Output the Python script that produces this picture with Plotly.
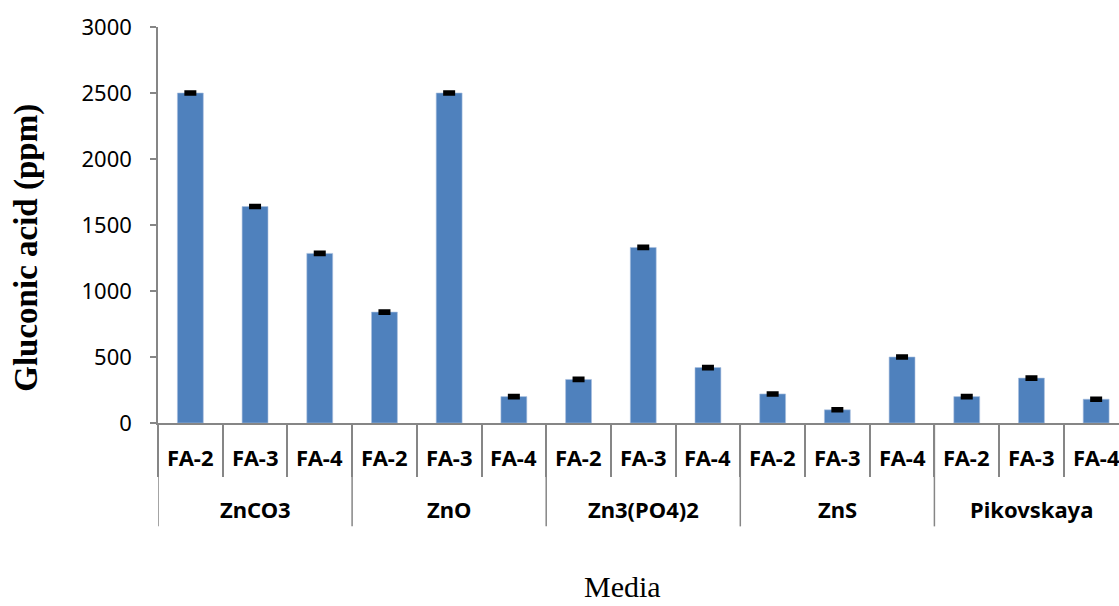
import plotly.graph_objects as go

# Gluconic acid produced by each strain on each zinc / phosphate medium
media = ["ZnCO3", "ZnO", "Zn3(PO4)2", "ZnS", "Pikovskaya"]
strains = ["FA-2", "FA-3", "FA-4"]
gluconic = [2500, 1640, 1285,
            840, 2500, 200,
            330, 1330, 420,
            220, 100, 500,
            200, 340, 180]
std_err = [10, 10, 10,
           10, 10, 10,
           10, 10, 10,
           10, 10, 10,
           10, 10, 10]

n_str = len(strains)
n_cat = len(media) * n_str
xpos = list(range(n_cat))

AXIS_GREY = "#868686"
BAR_BLUE = "#4F81BD"

W, H = 1119, 606
ML, MT, MB = 158, 27, 182.5
plot_w = W - ML
plot_h = H - MT - MB
cat_px = 64.7  # width of one category slot in pixels


def py(pixel_y):
    """Pixel row -> paper y coordinate."""
    return (H - MB - pixel_y) / plot_h


def px(pixel_x):
    """Pixel column -> paper x coordinate."""
    return (pixel_x - ML) / plot_w


fig = go.Figure()
fig.add_trace(go.Bar(
    x=xpos,
    y=gluconic,
    width=0.4,
    marker=dict(color=BAR_BLUE, line=dict(color="#a9bfdf", width=0.6)),
    error_y=dict(type="data", array=std_err, visible=True,
                 color="black", thickness=3, width=6),
    showlegend=False,
))

annotations = []
shapes = []

label_font = dict(family="Noto Sans", size=22, color="black")

# strain labels (first level of the category axis)
for i in xpos:
    annotations.append(dict(
        x=i, xref="x", y=py(458), yref="paper",
        text="<b>" + strains[i % n_str] + "</b>", showarrow=False,
        font=label_font, xanchor="center", yanchor="middle",
    ))

# medium labels and group dividers (second level)
for g, name in enumerate(media):
    centre = g * n_str + (n_str - 1) / 2
    annotations.append(dict(
        x=centre, xref="x", y=py(510), yref="paper",
        text="<b>" + name + "</b>", showarrow=False,
        font=label_font, xanchor="center", yanchor="middle",
    ))
    left = g * n_str - 0.5
    shapes.append(dict(
        type="line", xref="x", yref="paper",
        x0=left, x1=left, y0=0, y1=py(527),
        line=dict(color=AXIS_GREY, width=1.5),
    ))

# axis titles
annotations.append(dict(
    x=px(27), xref="paper", y=py(248), yref="paper",
    text="<b>Gluconic acid (ppm)</b>", showarrow=False, textangle=-90,
    font=dict(family="Liberation Serif", size=33, color="black"),
    xanchor="center", yanchor="middle",
))
annotations.append(dict(
    x=px(622), xref="paper", y=py(606), yref="paper",
    text="Media", showarrow=False,
    font=dict(family="Liberation Serif", size=30, color="black"),
    xanchor="center", yanchor="bottom",
))

fig.update_layout(
    width=W, height=H,
    margin=dict(l=ML, r=0, t=MT, b=MB, pad=0),
    plot_bgcolor="white", paper_bgcolor="white",
    annotations=annotations,
    shapes=shapes,
    xaxis=dict(
        range=[-0.5, -0.5 + plot_w / cat_px],
        tickmode="array",
        tickvals=[k - 0.5 for k in range(n_cat + 1)],
        showticklabels=False,
        ticks="outside", ticklen=52, tickwidth=1.5, tickcolor=AXIS_GREY,
        showline=True, linecolor=AXIS_GREY, linewidth=1.5,
        showgrid=False, zeroline=False,
    ),
    yaxis=dict(
        range=[0, 3000],
        tickmode="linear", tick0=0, dtick=500,
        ticks="outside", ticklen=6, tickwidth=1.5, tickcolor=AXIS_GREY,
        ticklabelstandoff=14,
        tickfont=dict(family="Noto Sans", size=22, color="black"),
        showline=True, linecolor=AXIS_GREY, linewidth=1.5,
        showgrid=False, zeroline=False,
    ),
)

fig.write_html("out.html")
